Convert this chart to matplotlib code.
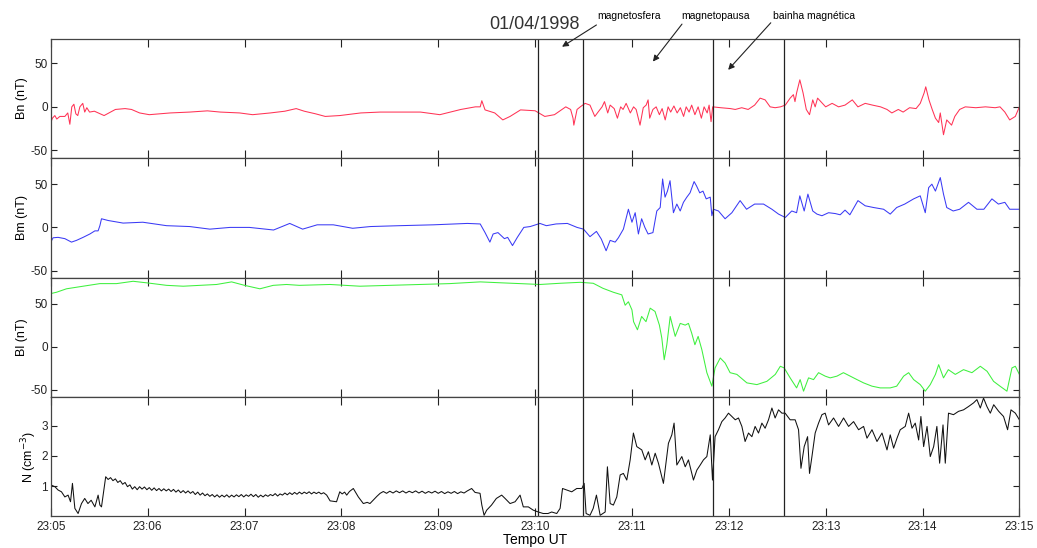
import matplotlib
matplotlib.use('agg')
import matplotlib.pyplot as plt

plt.rcParams['font.family'] = ['Liberation Sans', 'DejaVu Sans']
plt.rcParams['axes.unicode_minus'] = False

# time in seconds after 23:05:00 UT
t_bn = [0, 1, 2.5, 3.7, 5.6, 8.7, 10.5, 11.8, 13, 14.3, 15.5, 16.7, 18, 19.8, 21, 22.3, 24, 27, 33, 40,
        46, 50, 55, 61, 74, 86, 97, 105, 117, 125, 136, 145, 152, 157, 164, 170, 179, 192, 204, 216,
        229, 241, 254, 263, 266, 267, 269, 275, 280, 284.5, 291, 300, 306, 312, 317, 319, 322, 323.5, 324, 326,
        328, 331, 334, 337, 339, 341.5, 343, 345, 346.5, 349, 351, 353, 354.5, 356.4, 359, 361, 362.6, 365, 367, 368.8,
        370, 371, 373, 375, 377, 378.7, 380.6, 382.4, 384, 386, 388, 390, 392, 393.6, 395.4, 397, 399, 401, 403, 404.7,
        406.6, 407.8, 409, 410, 415, 421, 424, 428, 432, 436, 439.4, 442.5, 445.6, 448.7, 452, 455, 458, 460, 461, 462,
        464, 466, 468, 470, 472, 473.5, 475, 478, 480, 484, 488, 492, 496.5, 500, 504.5, 509, 514, 518, 521, 525,
        528, 532, 536, 538.6, 541, 542, 544, 546, 548, 550, 551, 553, 555, 558, 560, 563, 566.5, 573, 579, 585,
        588, 591, 594, 597.5, 600]
bn = [-18, -13, -10, -14, -11, -11, -7, -20, 0, 3, -8, -10, 0, 4, -6, -1, -6, -5, -10, -3,
      -2, -3, -7, -9, -7, -6, -4.6, -6, -7, -9, -7, -5, -2, -5, -8, -11, -10, -7, -6, -6,
      -6, -9, -3, 0, 0, 7, -3.5, -7, -15, -11, -3.5, -4.5, -11, -9, -2.5, 0, -3, -13, -21, -3,
      0, 4, 2, -11, -6, 0, 6, -7, 2, -2, -13, 0, -3, 4, -7, 0, -3, -21, -1, 2,
      8, -13, -3, 0, -9, -2, -15, 0, -6, 1, -7, -1, -11, 0, -6, 2, -9, 0, -13, 0,
      -7, 2, -17, 0, -1, -2, -3, -1, -3, 2, 10, 8, 0, -1, 0, 2, 10, 14, 6, 16,
      31, 16, -3, -9, 8, 0, 10, 4, 0, 4, 0, 2, 8, 0, 4, 2, 0, -3, -7, -3,
      -6, -1, -2, 4, 16, 23, 8, -3, -13, -18, -7, -32, -15, -21, -11, -3, 0, -1, 0, -1,
      0, -6, -15, -11, 0]

t_bm = [0, 1.4, 4.5, 8.7, 12.8, 15.9, 20, 24.2, 27.3, 29.3, 30.4, 31.4, 35.5, 44.8, 57, 71.7, 86, 98.5, 111, 123,
        138, 148, 156, 165, 175, 187, 198, 216, 237, 258, 266, 269, 272, 274, 277, 281, 283, 286, 289, 293,
        297, 303, 307, 313, 320, 326, 330, 334, 338, 341, 344, 346.5, 349.6, 351.6, 354.7, 357.8, 360, 362, 364, 366,
        368, 370, 373, 375.4, 377.5, 379, 380.5, 382, 383.6, 385.7, 387.8, 389.9, 391.9, 394, 396, 398.5, 400, 402, 404, 406,
        408.5, 409.5, 410.5, 413.6, 417.7, 421.9, 427, 431, 436, 441.5, 446.7, 450.8, 455, 459, 462, 464, 466.7, 469, 472, 474.6,
        477.7, 481.8, 486, 489, 492, 495, 500, 504.5, 509.7, 515.9, 520, 524, 529, 534.5, 538.6, 541.7, 543.8, 545.8, 548, 551,
        553, 555, 559, 563, 568.5, 573.7, 578, 583, 587, 591, 594, 600]
bm = [-17, -12, -11.5, -13, -17, -15, -11.5, -7.6, -4, -4, 2, 10, 8, 5, 6, 2, 1, -2, 0, 0,
      -3, 4.6, -2, 3, 3, -1, 1, 2, 3, 4.6, 4, -6, -17, -7.6, -6, -13, -11.5, -21, -11.5, 0,
      1, 4.6, 2, 4, 4.6, 0, -2, -10.7, -4.6, -13.4, -27, -15, -17, -12, -2, 21, 6, 17, -7.6, 10,
      0, -7.6, -6, 19, 23, 56, 35, 42, 54, 17, 27, 19, 29, 35, 40, 53, 48, 40, 42, 33,
      35, 13.5, 21, 19, 10, 17, 31, 21, 27, 27, 21, 15.4, 11.5, 19, 17, 36.5, 19, 38.5, 19, 15.4,
      13.5, 17, 16, 14.6, 20, 14.6, 31, 25, 23, 21, 15.4, 23, 27, 33, 36.5, 17, 46, 50, 42, 57.6,
      38.5, 23, 19, 21, 29, 21, 21, 33, 27, 29, 21, 21]

t_bl = [0, 3.5, 9.7, 20, 30.4, 40.7, 51, 60.3, 71.7, 82, 92.4, 102.7, 112, 120, 129.5, 137.8, 146, 154, 173, 191.5,
        210, 228.7, 247, 266, 278, 290.7, 303, 315.5, 327.9, 336, 342, 348.5, 353.7, 355.8, 357.8, 360, 361, 363.4, 366, 368.7,
        371.3, 374.3, 377, 378.5, 380, 381.6, 383.7, 386.8, 389.9, 393, 395, 397, 399, 401, 403.3, 406.4, 409.5, 411.5, 414.7, 417.7,
        420.8, 425, 431.2, 437.4, 443.6, 448.8, 451.9, 454.3, 458, 462, 464.2, 466.3, 469.4, 472.5, 475.6, 479.7, 482.8, 487, 491, 495.2,
        499.4, 503.5, 508.7, 513.8, 520, 524, 528.3, 531.4, 534.5, 538.6, 541.7, 544.8, 548, 550, 553, 556, 560.3, 565.4, 570.6, 575.8,
        580, 584, 588, 592.3, 595.4, 597.5, 600]
bl = [61.5, 63, 67, 70, 73, 73, 75.7, 73.7, 71, 70, 71, 72, 75, 71, 67, 71, 72, 71, 72, 70,
      71, 72, 73, 75, 74, 73, 72, 73.4, 74.5, 73.4, 67.6, 63, 60, 48, 52, 42.6, 29, 19.6, 35, 29,
      44.6, 40.8, 25, 10, -15, 2.3, 35, 12, 27, 25, 27, 15.8, 2.3, 12, -3.4, -30, -45.6, -24.5, -13, -18.8,
      -30, -32, -41.8, -43.8, -40, -32, -22.6, -24.5, -36, -47.6, -38, -51.4, -36, -38, -30, -34, -36, -34, -30, -34,
      -38, -41.8, -45.6, -47.6, -47.6, -45.6, -34, -30, -38, -43.8, -51.4, -43.8, -32, -20.7, -36, -26.5, -32, -26.5, -30, -22.6,
      -28.4, -40, -45.6, -51.4, -24.5, -22.6, -32]

t_n = [0.4, 2.5, 4.5, 6.6, 8.7, 10.7, 12.2, 13.4, 14.9, 16.9, 19, 21, 23, 25, 27.3, 29.3, 30.4, 31.4,
       34, 35.5, 37, 38.5, 40, 41.5, 43, 44.5, 46, 47.5, 49, 50.5, 52, 53.5, 55, 56.5, 58, 59.5,
       61, 62.5, 64, 65.5, 67, 68.5, 70, 71.5, 73, 74.5, 76, 77.5, 79, 80.5, 82, 83.5, 85, 86.5,
       88, 89.5, 91, 92.5, 94, 95.5, 97, 98.5, 100, 101.5, 103, 104.5, 106, 107.5, 109, 110.5, 112, 113.5,
       115, 116.5, 118, 119.5, 121, 122.5, 124, 125.5, 127, 128.5, 130, 131.5, 133, 134.5, 136, 137.5, 139, 140.5,
       142, 143.5, 145, 146.5, 148, 149.5, 151, 152.5, 154, 155.5, 157, 158.5, 160, 161.5, 163, 164.5, 166, 167.5, 169,
       170.9, 173, 177, 179, 180.5, 182, 183.3, 185, 187.4, 190.5, 193.6, 196, 197.7, 200, 202, 204,
       206, 208, 210, 212, 214, 216, 218, 220, 222, 224, 226, 228, 230, 232, 234, 236, 238, 240, 242, 244,
       246, 248, 250, 252, 254, 256, 258, 260.7, 262.8, 265.9, 267, 268.4,
       270, 273, 276, 279.3, 281.4, 284.5, 287.6, 290.7, 292.7, 295.8, 298.9, 302, 305, 308, 310.3, 313.4, 315.5, 317, 319.6, 322.7,
       325.8, 329, 330.4, 331.6, 334, 336, 338, 340.3, 343.4, 344.8, 346.5, 348.5, 350.6, 352.7, 354.7, 356.8, 358.9, 360.9, 363, 366.1,
       368.2, 370.2, 372.3, 374.4, 376.4, 379.5, 382.6, 384.7, 386.1, 387.8, 390.9, 393, 395, 398.1, 400.2, 402.3, 404.3, 406.4, 408.5, 409.9,
       411.5, 413.6, 415.7, 417.7, 419.8, 421.9, 424, 426, 428.1, 430.1, 432.2, 434.3, 436.3, 438.4, 440.5, 442.5, 444.6, 446.7, 448.7, 450.8,
       452.9, 454.9, 458, 461.1, 463.2, 464.7, 466.7, 468.8, 470, 471.5, 473.5, 475.6, 477.7, 479.7, 481.8, 484.9, 488, 491.1, 494.2, 497.3,
       500.4, 503.5, 505.6, 508.7, 511.8, 514.9, 518, 520, 522.1, 524.2, 526.2, 529.3, 531.4, 533.5, 535.5, 537.6, 539, 540.7, 542.8, 544.8,
       546.9, 548.9, 550.6, 552.7, 554.1, 556.1, 559.2, 562.3, 565.4, 568.5, 571.6, 573.7, 575.8, 577.8, 579.9, 582, 584.1, 587.2, 590.2, 592.7,
       594.8, 597.5, 600]
n = [1.03, 0.98, 0.87, 0.81, 0.64, 0.7, 0.48, 1.09, 0.26, 0.09, 0.42, 0.59, 0.42, 0.53, 0.31, 0.7, 0.37, 0.31,
     1.31, 1.22, 1.28, 1.18, 1.24, 1.12, 1.18, 1.06, 1.12, 0.98, 1.04, 0.9, 0.98, 0.88, 0.98, 0.9, 0.97, 0.88,
     0.95, 0.86, 0.94, 0.85, 0.92, 0.84, 0.91, 0.84, 0.9, 0.82, 0.89, 0.8, 0.87, 0.78, 0.85, 0.77, 0.84, 0.76,
     0.82, 0.72, 0.8, 0.7, 0.77, 0.68, 0.74, 0.66, 0.72, 0.64, 0.71, 0.63, 0.7, 0.64, 0.71, 0.63, 0.7, 0.64,
     0.71, 0.65, 0.72, 0.64, 0.71, 0.66, 0.73, 0.65, 0.72, 0.63, 0.7, 0.64, 0.71, 0.66, 0.72, 0.68, 0.75, 0.67,
     0.74, 0.7, 0.77, 0.71, 0.78, 0.72, 0.79, 0.73, 0.8, 0.74, 0.8, 0.75, 0.81, 0.74, 0.8, 0.75, 0.8, 0.74, 0.78,
     0.7, 0.51, 0.48, 0.81, 0.74, 0.8, 0.7, 0.82, 0.92, 0.64, 0.42, 0.46, 0.42, 0.55, 0.66, 0.76,
     0.82, 0.76, 0.83, 0.77, 0.84, 0.78, 0.84, 0.77, 0.83, 0.78, 0.84, 0.77, 0.83, 0.76, 0.82, 0.77, 0.83, 0.76, 0.82, 0.75,
     0.81, 0.76, 0.82, 0.75, 0.81, 0.77, 0.84, 0.92, 0.79, 0.76, 0.37, 0.03,
     0.2, 0.37, 0.59, 0.7, 0.59, 0.42, 0.48, 0.7, 0.31, 0.31, 0.2, 0.14, 0.09, 0.09, 0.14, 0.09, 0.26, 0.92, 0.87, 0.81,
     0.92, 0.92, 1.09, 0.09, 0.03, 0.26, 0.7, 0.03, 0.14, 1.64, 0.42, 0.37, 0.64, 1.37, 1.42, 1.2, 1.87, 2.76, 2.31, 2.2,
     1.87, 2.14, 1.7, 2.09, 1.76, 1.09, 2.42, 2.7, 3.09, 1.7, 1.98, 1.64, 1.87, 1.2, 1.53, 1.7, 1.87, 1.98, 2.7, 1.2,
     2.64, 2.87, 3.14, 3.26, 3.42, 3.31, 3.2, 3.26, 2.98, 2.48, 2.76, 2.64, 2.98, 2.76, 3.09, 2.92, 3.2, 3.59, 3.26, 3.53,
     3.42, 3.42, 3.2, 3.2, 2.87, 1.59, 2.31, 2.64, 1.42, 1.98, 2.76, 3.09, 3.37, 3.42, 3.03, 3.26, 2.98, 3.26, 2.98, 3.14,
     2.87, 2.98, 2.59, 2.87, 2.48, 2.76, 2.2, 2.7, 2.26, 2.59, 2.87, 2.98, 3.42, 2.92, 3.09, 2.53, 3.31, 2.31, 2.98, 1.98,
     2.31, 2.98, 1.76, 3.03, 1.76, 3.42, 3.37, 3.48, 3.53, 3.64, 3.76, 3.87, 3.59, 3.92, 3.64, 3.42, 3.7, 3.48, 3.31, 2.87,
     3.53, 3.42, 3.2]

boundaries = [301.6, 329.5, 410.3, 454.3]
tick_pos = [0, 60, 120, 180, 240, 300, 360, 420, 480, 540, 600]
tick_lab = ['23:05', '23:06', '23:07', '23:08', '23:09', '23:10', '23:11', '23:12', '23:13', '23:14', '23:15']

fig, axes = plt.subplots(4, 1, sharex=True, figsize=(10.37, 5.48), dpi=100,
                         gridspec_kw=dict(hspace=0))
fig.subplots_adjust(left=0.049, right=0.983, top=0.929, bottom=0.058)

series = [(t_bn, bn, '#ff3355', 'Bn (nT)', (-59, 78), [-50, 0, 50]),
          (t_bm, bm, '#3a3af5', 'Bm (nT)', (-58, 80), [-50, 0, 50]),
          (t_bl, bl, '#3ef03e', 'Bl (nT)', (-58, 80), [-50, 0, 50]),
          (t_n, n, '#111111', 'N (cm$^{-3}$)', (0, 3.96), [1, 2, 3])]

for ax, (tt, vv, col, lab, lim, yt) in zip(axes, series):
    ax.plot(tt, vv, color=col, lw=0.75)
    for b in boundaries:
        ax.axvline(b, color='#222222', lw=0.9)
    ax.set_ylim(lim)
    ax.set_yticks(yt)
    ax.set_xlim(0, 600)
    ax.set_xticks(tick_pos)
    ax.set_ylabel(lab, fontsize=9, labelpad=2)
    ax.tick_params(direction='in', top=True, right=True, labelsize=8.5, colors='#222222')
    ax.tick_params(axis='x', length=6)
    ax.tick_params(axis='y', length=4, pad=2)
    for s in ax.spines.values():
        s.set_color('#444444')
        s.set_linewidth(0.9)

axes[-1].set_xticklabels(tick_lab)
axes[-1].set_xlabel('Tempo UT', fontsize=10, labelpad=0)

fig.text(0.515, 0.956, '01/04/1998', fontsize=13, ha='center', va='center', color='#333333')
fig.text(0.576, 0.971, 'magnetosfera', fontsize=7.5, ha='left', va='center')
fig.text(0.657, 0.971, 'magnetopausa', fontsize=7.5, ha='left', va='center')
fig.text(0.745, 0.971, 'bainha magnética', fontsize=7.5, ha='left', va='center')

arrows = [((316.7, 69), (338, 94)), ((373, 52), (391, 95)), ((419.6, 42.5), (446, 96.5))]
for head, tail in arrows:
    axes[0].annotate('', xy=head, xytext=tail, annotation_clip=False,
                     arrowprops=dict(arrowstyle='-|>', color='#222222', lw=0.8,
                                     mutation_scale=9, shrinkA=0, shrinkB=0))

plt.savefig('out.png')
